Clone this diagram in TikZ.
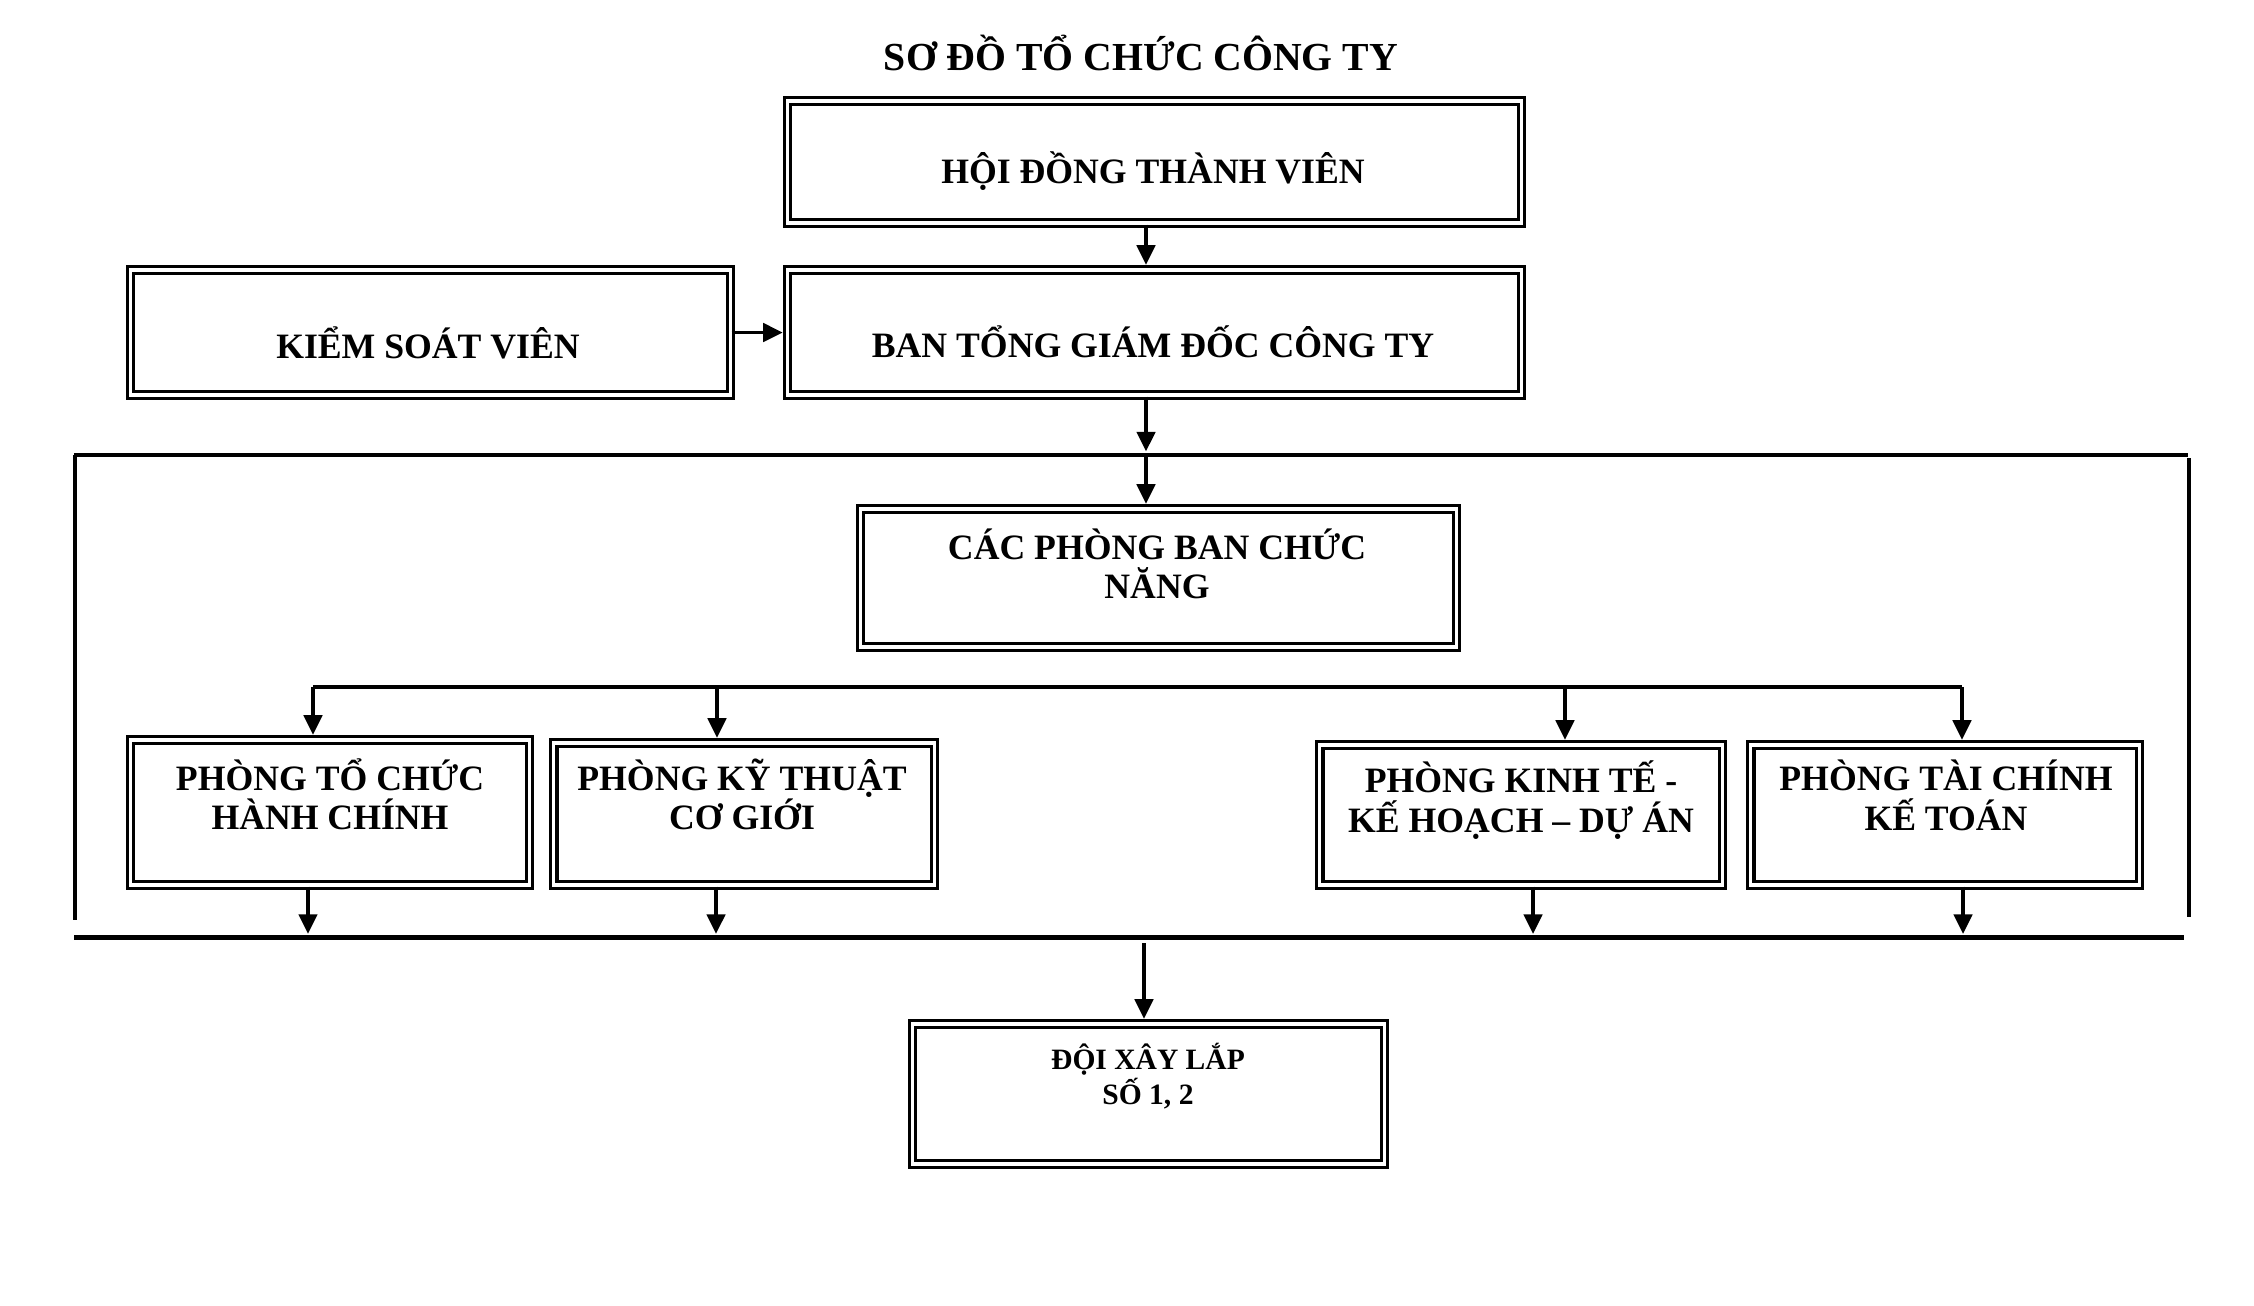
\documentclass[tikz,border=0pt]{standalone}
\usepackage{fontspec}
\setmainfont{Liberation Serif}
\usetikzlibrary{arrows.meta}

\begin{document}
\begin{tikzpicture}[x=0.01cm,y=-0.01cm,
  box/.style={draw,double,double distance=0.9pt,line width=0.86pt,inner sep=0pt},
  boxtext/.style={font=\fontsize{10.15}{11.2}\selectfont\bfseries,align=center,inner sep=0pt},
  link/.style={line width=1.1pt,-{Triangle[length=5.6pt,width=5.2pt]},shorten >=1pt},
  bar/.style={line width=1.35pt}]
  \useasboundingbox (0,0) rectangle (2254,1306);
  \node[font=\fontsize{11.3}{13}\selectfont\bfseries] (title) at (1141,53) {SƠ ĐỒ TỔ CHỨC CÔNG TY};
  % boxes
  \node[box,minimum width=7.33cm,minimum height=1.22cm] (hdtv) at (1154.5,162) {};
  \node[box,minimum width=5.99cm,minimum height=1.25cm] (ksv) at (430.5,332.5) {};
  \node[box,minimum width=7.33cm,minimum height=1.25cm] (btgd) at (1154.5,332.5) {};
  \node[box,minimum width=5.95cm,minimum height=1.38cm] (cpbcn) at (1158.5,578) {};
  \node[box,minimum width=3.98cm,minimum height=1.45cm] (p1) at (330,812.5) {};
  \node[box,minimum width=3.80cm,minimum height=1.42cm] (p2) at (744,814) {};
  \node[box,minimum width=4.02cm,minimum height=1.40cm] (p3) at (1521,815) {};
  \node[box,minimum width=3.88cm,minimum height=1.40cm] (p4) at (1945,815) {};
  \node[box,minimum width=4.71cm,minimum height=1.40cm] (dxl) at (1148.5,1094) {};
  % texts
  \node[boxtext] (hdtvtxt) at (1153,171) {HỘI ĐỒNG THÀNH VIÊN};
  \node[boxtext] (ksvtxt) at (428,343) {KIỂM SOÁT VIÊN};
  \node[boxtext] (btgdtxt) at (1153,342) {BAN TỔNG GIÁM ĐỐC CÔNG TY};
  \node[boxtext] (cpbcntxt) at (1157,564) {CÁC PHÒNG BAN CHỨC\\NĂNG};
  \node[boxtext] (p1txt) at (330,794.5) {PHÒNG TỔ CHỨC\\HÀNH CHÍNH};
  \node[boxtext] (p2txt) at (742,794.5) {PHÒNG KỸ THUẬT\\CƠ GIỚI};
  \node[boxtext] (p3txt) at (1521,800) {PHÒNG KINH TẾ -\\KẾ HOẠCH – DỰ ÁN};
  \node[boxtext] (p4txt) at (1946,795.5) {PHÒNG TÀI CHÍNH\\KẾ TOÁN};
  \node[boxtext,font=\fontsize{8.4}{9.8}\selectfont\bfseries] (dxltxt) at (1148,1076) {ĐỘI XÂY LẮP\\SỐ 1, 2};
  % frame and bars
  \coordinate (sp) at (1146,0);
  \coordinate (tl) at (74,455);
  \coordinate (tr) at (2188,455);
  \coordinate (bl) at (74,937.5);
  \coordinate (br) at (2184,937.5);
  \coordinate (dl) at (313,687);
  \coordinate (dr) at (1962,687);
  \draw[bar] (tl) -- (tr);
  \draw[bar] (bl) -- (br);
  \draw[line width=1.15pt] (75,455) -- (75,920);
  \draw[line width=1.15pt] (2189,458) -- (2189,917);
  \draw[line width=1.25pt] (dl) -- (dr);
  % connectors
  \draw[link] (hdtv.south -| sp) -- (btgd.north -| sp);
  \draw[link] (ksv.east) -- (btgd.west);
  \draw[link] (btgd.south -| sp) -- (sp |- tl);
  \draw[link] (sp |- tl) -- (cpbcn.north -| sp);
  \coordinate (d2) at (717,687);
  \coordinate (d3) at (1565,687);
  \draw[link] (dl) -- (dl |- p1.north);
  \draw[link] (d2) -- (d2 |- p2.north);
  \draw[link] (d3) -- (d3 |- p3.north);
  \draw[link] (dr) -- (dr |- p4.north);
  \coordinate (u1) at (308,937.5);
  \coordinate (u2) at (716,937.5);
  \coordinate (u3) at (1533,937.5);
  \coordinate (u4) at (1963,937.5);
  \draw[link] (p1.south -| u1) -- (u1);
  \draw[link] (p2.south -| u2) -- (u2);
  \draw[link] (p3.south -| u3) -- (u3);
  \draw[link] (p4.south -| u4) -- (u4);
  \draw[link] (1144,943) -- (dxl.north -| 1144,0);
\end{tikzpicture}
\end{document}
